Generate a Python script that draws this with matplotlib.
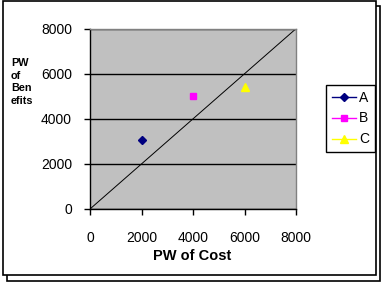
import matplotlib
matplotlib.use("Agg")
import matplotlib.pyplot as plt
from matplotlib.patches import Rectangle

names = ["A", "B", "C"]
cost = [2000, 4000, 6000]
benefit = [3060, 5030, 5400]
colors = ["#000080", "#FF00FF", "#FFFF00"]
markers = ["D", "s", "^"]
msizes = [4, 4.5, 5.5]
ticks = [0, 2000, 4000, 6000, 8000]
tick_labels = ["0", "2000", "4000", "6000", "8000"]

W, H = 387, 286
fig = plt.figure(figsize=(W / 100, H / 100), dpi=100)
plt.rcParams['font.family'] = ['Liberation Sans', 'DejaVu Sans']

# outer double frame
fig.patches.append(Rectangle((6.7 / W, 1 - 281.3 / H), (380 - 6.7) / W, (281.3 - 6) / H,
                             transform=fig.transFigure, fill=False, ec="black", lw=1.2,
                             zorder=-10))
fig.patches.append(Rectangle((2.7 / W, 1 - 274.7 / H), (376 - 2.7) / W, (274.7 - 1.3) / H,
                             transform=fig.transFigure, fill=True, fc="white", ec="black", lw=1.2,
                             zorder=-9))

ax = fig.add_axes([90 / W, 1 - 209 / H, (296 - 90) / W, (209 - 28.7) / H])
ax.set_facecolor("#C0C0C0")
ax.set_xlim(0, 8000)
ax.set_ylim(0, 8000)
ax.set_xticks(ticks)
ax.set_xticklabels(tick_labels)
ax.set_yticks(ticks)
ax.set_yticklabels(tick_labels)
ax.tick_params(axis="x", direction="out", length=4, width=1, pad=12, labelsize=10)
ax.tick_params(axis="y", direction="out", length=4, width=1, pad=9, labelsize=10)
ax.yaxis.grid(True, color="black", lw=1)
ax.set_axisbelow(True)
for s in ax.spines.values():
    s.set_color("black")
    s.set_linewidth(1)
ax.spines["right"].set_color("#808080")
ax.spines["top"].set_color("#808080")

ax.plot([ticks[0], ticks[-1]], [ticks[0], ticks[-1]], color="black", lw=0.7, zorder=2)

for n, x, y, c, m, ms in zip(names, cost, benefit, colors, markers, msizes):
    ax.plot([x], [y], linestyle="-", color=c, marker=m, markersize=ms, lw=1,
            label=n, zorder=3)

leg = ax.legend(loc="center left", bbox_to_anchor=(326 / W, 1 - 118.5 / H),
                bbox_transform=fig.transFigure, frameon=True, fancybox=False,
                edgecolor="black", framealpha=1, fontsize=10, handlelength=1.75,
                handletextpad=0.25, borderpad=0.4, labelspacing=0.5,
                borderaxespad=0)
leg.get_frame().set_linewidth(1)

fig.text(192 / W, 1 - 256.5 / H, "PW of Cost", ha="center", va="center",
         fontsize=10.5, fontweight="bold")
fig.text(11 / W, 1 - 82 / H, "PW\nof\nBen\nefits", ha="left", va="center",
         fontsize=7.8, fontweight="bold", linespacing=1.3)

fig.savefig("out.png", dpi=100)
